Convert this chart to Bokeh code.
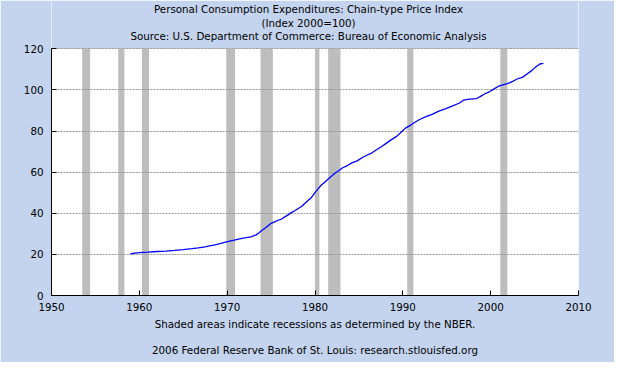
from bokeh.plotting import figure
from bokeh.models import Range1d, FixedTicker, Title, Label, ColumnDataSource, BoxAnnotation
from bokeh.embed import file_html
from bokeh.resources import INLINE

# ---- data ----
years = [1959.0, 1959.5, 1960.0, 1961.0, 1962.0, 1963.0, 1964.0, 1965.0, 1966.0, 1966.7,
         1967.5, 1968.0, 1968.6, 1969.2, 1969.7, 1970.3, 1970.8, 1971.3, 1971.8, 1972.0,
         1972.7, 1973.3, 1973.6, 1973.9, 1974.3, 1974.7, 1975.0, 1975.4, 1975.8, 1976.2,
         1976.5, 1976.9, 1977.3, 1977.7, 1978.1, 1978.5, 1978.8, 1979.2, 1979.6, 1980.0,
         1980.4, 1980.7, 1981.1, 1981.5, 1981.9, 1982.3, 1982.7, 1983.1, 1983.7, 1984.2,
         1984.8, 1985.4, 1985.9, 1986.5, 1987.0, 1987.6, 1988.1, 1988.7, 1989.3, 1989.8,
         1990.3, 1990.8, 1991.2, 1991.9, 1992.7, 1993.4, 1994.1, 1994.9, 1995.6, 1996.4,
         1996.9, 1997.6, 1998.4, 1998.8, 1999.3, 1999.9, 2000.4, 2001.0, 2001.5, 2001.9,
         2002.5, 2003.0, 2003.6, 2004.1, 2004.7, 2005.2, 2005.6, 2006.0]
pce_index = [20.3, 20.6, 20.9, 21.1, 21.4, 21.6, 21.9, 22.3, 22.8, 23.2,
             23.7, 24.1, 24.6, 25.2, 25.8, 26.5, 26.9, 27.4, 27.9, 28.0,
             28.5, 29.5, 30.4, 31.5, 32.7, 34.1, 35.1, 35.8, 36.6, 37.2,
             38.1, 39.1, 40.3, 41.2, 42.3, 43.4, 44.6, 46.2, 47.7, 50.0,
             52.1, 53.6, 55.1, 56.7, 58.1, 59.6, 60.7, 62.0, 63.2, 64.5,
             65.5, 67.1, 68.2, 69.4, 70.9, 72.5, 74.0, 75.8, 77.4, 79.4,
             81.4, 82.6, 83.8, 85.6, 87.1, 88.2, 89.7, 90.9, 92.1, 93.5,
             95.0, 95.5, 95.8, 96.7, 98.0, 99.2, 100.5, 102.0, 102.6, 103.0,
             104.1, 105.3, 106.1, 107.6, 109.5, 111.4, 112.6, 112.9]

rec_start = [1953.5, 1957.6, 1960.3, 1969.9, 1973.8, 1980.0, 1981.5, 1990.5, 2001.1]
rec_end = [1954.4, 1958.3, 1961.1, 1970.9, 1975.2, 1980.5, 1982.9, 1991.2, 2001.9]

x_ticks = [1950, 1960, 1970, 1980, 1990, 2000, 2010]
y_ticks = [0, 20, 40, 60, 80, 100, 120]

title_lines = ["Personal Consumption Expenditures: Chain-type Price Index",
               "(Index 2000=100)",
               "Source: U.S. Department of Commerce: Bureau of Economic Analysis"]
note_text = "Shaded areas indicate recessions as determined by the NBER."
credit_text = "2006 Federal Reserve Bank of St. Louis: research.stlouisfed.org"

# ---- styling ----
BG = "#C4D4EE"
FONT = "DejaVu Sans"
FS = "10.3px"

W, H = 614, 362
ML, MR, MT, MB = 51, 36, 0, 65
FRAME_H = H - MT - MB
PLOT_TOP_PX = 48.6                 # where the 120 line sits, from canvas top
Y_TOP = y_ticks[-1] * FRAME_H / (FRAME_H - PLOT_TOP_PX)   # headroom holds the titles

p = figure(width=W, height=H, output_backend="svg", toolbar_location=None,
           title_location=None,
           x_range=Range1d(x_ticks[0], x_ticks[-1]),
           y_range=Range1d(y_ticks[0], Y_TOP),
           min_border_left=ML, min_border_right=MR,
           min_border_top=MT, min_border_bottom=MB)
p.border_fill_color = BG
p.background_fill_color = "white"
p.outline_line_color = None

# headroom above the 120 line painted in the page colour
p.add_layout(BoxAnnotation(bottom=y_ticks[-1], fill_color=BG, fill_alpha=1.0,
                           line_color=None, level="image"))

rec_src = ColumnDataSource(dict(left=rec_start, right=rec_end,
                                bottom=[y_ticks[0]] * len(rec_start),
                                top=[y_ticks[-1]] * len(rec_start)))
p.quad(left="left", right="right", bottom="bottom", top="top", source=rec_src,
       fill_color="#BDBDBD", line_color=None, level="image")

p.line(years, pce_index, line_color="#0000FF", line_width=1.3)

p.xgrid.visible = False
p.ygrid.grid_line_color = "#999999"
p.ygrid.grid_line_dash = "2 1"
p.ygrid.grid_line_width = 1

for ax, ticks in ((p.xaxis[0], x_ticks), (p.yaxis[0], y_ticks)):
    ax.ticker = FixedTicker(ticks=ticks)
    ax.axis_line_color = "black"
    ax.axis_line_width = 1
    ax.major_tick_in = 5
    ax.major_tick_out = 0
    ax.major_tick_line_color = "black"
    ax.minor_tick_line_color = None
    ax.major_label_text_font = FONT
    ax.major_label_text_font_size = FS
    ax.major_label_text_color = "black"
p.yaxis[0].bounds = (y_ticks[0], y_ticks[-1])
p.xaxis[0].major_label_standoff = 7
p.yaxis[0].major_label_standoff = 8

# title lines, centred on the page, in the frame headroom (screen units from frame bottom-left)
CX = 308 - ML
for txt, ypx in zip(title_lines, [10.6, 24.0, 37.2]):
    p.add_layout(Label(x=CX, y=FRAME_H + MT - ypx, x_units="screen", y_units="screen",
                       text=txt, text_align="center", text_baseline="middle",
                       text_font=FONT, text_font_size=FS, text_color="black"))


def make_title(txt, standoff, valign="bottom"):
    return Title(text=txt, align="center", vertical_align=valign,
                 text_font=FONT, text_font_size=FS, text_font_style="normal",
                 text_color="black", text_line_height=1.0, standoff=standoff)


# below: first added sits nearest the axis
p.add_layout(make_title(note_text, 8.1, "top"), "below")
p.add_layout(make_title(credit_text, 12.5), "below")

open("out.html", "w").write(file_html(p, INLINE))
